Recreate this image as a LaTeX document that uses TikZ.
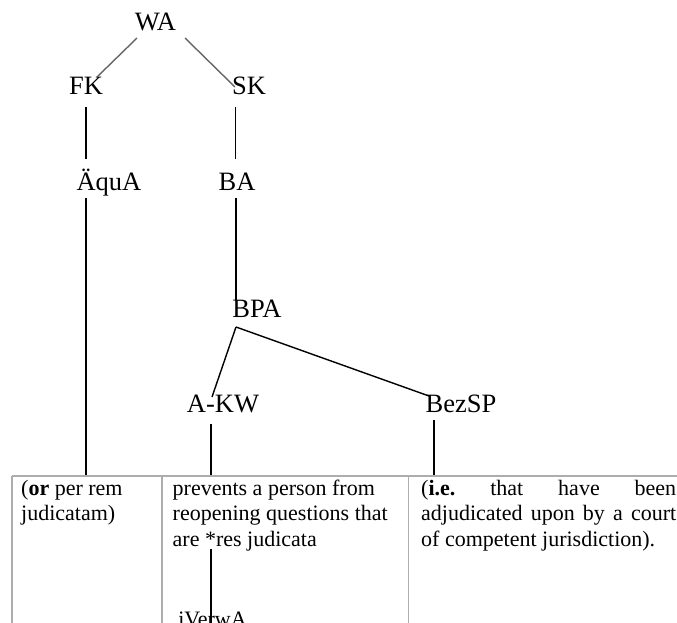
\documentclass[tikz,border=0pt]{standalone}
\usepackage{fontspec}
\setmainfont{Liberation Serif}
\begin{document}
\begin{tikzpicture}[x=1pt,y=-1pt,
  lbl/.style={font=\fontsize{26.5}{30}\selectfont, inner sep=0pt, anchor=base},
  cell/.style={font=\fontsize{22}{25.5}\selectfont, inner sep=0pt, anchor=base west},
  small/.style={font=\fontsize{22}{25.5}\selectfont, inner sep=0pt, anchor=base},
  edge/.style={line width=1.4pt, black},
  soft/.style={line width=1.4pt, black!60},
  grid/.style={line width=1.8pt, black!32}]
\useasboundingbox (0,0) rectangle (677,623);
\clip (0,0) rectangle (677,623);
\fill[white] (0,0) rectangle (677,623);

% tree labels
\node[lbl] (WA) at (155.5,31) {WA};
\node[lbl] (FK) at (86,95) {FK};
\node[lbl] (SK) at (249,95) {SK};
\node[lbl] (AquA) at (109,190) {ÄquA};
\node[lbl] (BA) at (237,190) {BA};
\node[lbl] (BPA) at (257,317) {BPA};
\node[lbl] (AKW) at (223,412) {A-KW};
\node[lbl] (BezSP) at (461,412) {BezSP};

% connector end points
\coordinate (WA-l) at (137,38);
\coordinate (WA-r) at (185,38);
\coordinate (FK-t) at (97,77);
\coordinate (SK-t) at (235,87);
\coordinate (FK-b) at (86,107);
\coordinate (AquA-t) at (86,159);
\coordinate (SK-b) at (235.5,107);
\coordinate (BA-t) at (235.5,159);
\coordinate (AquA-b) at (86,198);
\coordinate (BA-b) at (236,198);
\coordinate (BPA-t) at (236,300);
\coordinate (BPA-b) at (236,327);
\coordinate (AKW-t) at (212,397);
\coordinate (BezSP-t) at (429,396);
\coordinate (AKW-b) at (211,424);
\coordinate (BezSP-b) at (434,420);
\coordinate (T1) at (86,476);
\coordinate (T2) at (211,476);
\coordinate (T3) at (434,476);
\coordinate (res) at (211,549);
\coordinate (res-b) at (211,630);

\draw[soft] (WA-l) -- (FK-t);
\draw[soft] (WA-r) -- (SK-t);
\draw[edge] (FK-b) -- (AquA-t);
\draw[edge] (SK-b) -- (BA-t);
\draw[edge] (AquA-b) -- (T1);
\draw[edge] (BA-b) -- (BPA-t);
\draw[edge] (BPA-b) -- (AKW-t);
\draw[edge] (BPA-b) -- (BezSP-t);
\draw[edge] (AKW-b) -- (T2);
\draw[edge] (BezSP-b) -- (T3);

% table
\draw[grid] (12,476) -- (700,476);
\draw[grid] (12,476) -- (12,640);
\draw[grid] (162,476) -- (162,640);
\draw[grid] (408.5,476) -- (408.5,640);

\node[cell] (c1) at (21,495) {\parbox[t]{140pt}{(\textbf{or} per rem\\judicatam)}};
\node[cell] (c2) at (172.5,495) {\parbox[t]{236pt}{prevents a person from\\reopening questions that\\are *res judicata}};
\node[cell] (c3) at (421,495) {\parbox[t]{256pt}{\makebox[255pt][s]{(\textbf{i.e.}\hfill that\hfill have\hfill been}\\\makebox[255pt][s]{adjudicated\hfill upon\hfill by\hfill a\hfill court}\\of competent jurisdiction).}};

\node[small] (iVerwA) at (212.5,626) {iVerwA};
\draw[edge] (res) -- (res-b);
\end{tikzpicture}
\end{document}
